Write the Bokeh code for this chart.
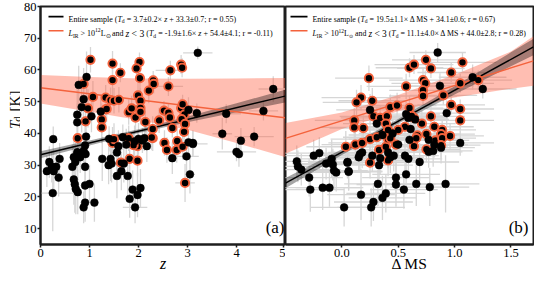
import numpy as np
from bokeh.plotting import figure
from bokeh.layouts import row
from bokeh.models import Label, BoxAnnotation, FixedTicker, NumeralTickFormatter
from bokeh.embed import file_html
from bokeh.resources import INLINE

# ---------------- data: panel (a) T_d vs z ----------------
z_all_a = [3.21,0.94,0.78,0.88,0.84,0.75,0.75,1.04,1.23,0.26,
           3.02,3.19,3.79,4.55,4.75,3.71,4.09,4.36,4.00,4.05,
           3.02,3.11,2.98,2.69,3.05,3.11,0.13,0.18,0.23,0.27,
           0.32,0.37,0.39,0.25,0.68,0.70,0.72,0.76,0.65,0.71,
           0.68,0.75,0.81,0.91,0.91,1.00,0.91,0.88,1.10,1.26,
           1.43,1.39,1.56,1.65,1.70,1.78,1.88,1.82,1.93,1.98,
           2.04,2.17,0.93,0.91,0.88,0.76,0.92,1.59,1.56,1.92,
           2.00,2.08,2.12,1.75,1.45,1.40,1.68]
td_all_a = [65.4,57.8,55.3,50.8,48.3,45.9,43.5,45.4,46.9,38.2,
            47.4,46.4,46.2,47.1,54.0,39.9,37.7,39.0,34.2,33.5,
            37.2,37.0,32.8,32.2,27.1,36.7,28.1,31.0,29.5,28.1,
            29.5,26.1,32.0,21.2,25.5,24.0,22.5,21.5,29.5,31.0,
            32.5,34.0,32.5,29.5,23.6,24.1,18.2,16.7,18.2,32.0,
            32.0,30.0,26.6,28.1,30.5,26.6,22.3,19.4,16.7,20.6,
            22.8,36.0,39.0,36.2,34.5,34.0,33.5,36.0,34.0,37.5,
            38.3,37.8,38.5,36.5,30.5,38.3,38.8]
ez_all_a = [0.30,0.05,0.05,0.05,0.05,0.05,0.05,0.05,0.05,0.05,
            0.10,0.05,0.30,0.30,0.30,0.20,0.05,0.40,0.40,0.05,
            0.10,0.10,0.25,0.10,0.10,0.30,0.05,0.05,0.05,0.05,
            0.05,0.05,0.05,0.50,0.05,0.05,0.05,0.05,0.05,0.05,
            0.05,0.05,0.05,0.05,0.05,0.05,0.05,0.05,0.05,0.05,
            0.05,0.05,0.05,0.05,0.05,0.05,0.05,0.05,0.25,0.05,
            0.05,0.10,0.05,0.05,0.05,0.05,0.05,0.05,0.05,0.05,
            0.05,0.05,0.05,0.05,0.05,0.05,0.05]
etd_all_a = [2,8,6,6,8,8,6,5,5,4,
             4,3,3,3,4,5,4,3,3,4,
             4,4,5,5,6,4,5,5,5,6,
             4,6,5,12,8,9,8,7,7,6,
             5,6,5,6,7,6,6,5,6,7,
             7,6,7,6,6,7,6,6,5,7,
             6,5,6,6,5,6,5,5,6,5,
             5,4,4,5,6,4,4]

z_lir_a = [1.02,1.47,2.02,1.96,1.63,2.65,2.87,2.89,0.88,1.47,
           2.03,2.30,2.31,2.61,2.21,0.97,1.07,1.33,1.43,1.50,
           1.60,1.99,2.04,0.92,1.25,1.25,1.33,1.80,1.86,1.94,
           2.04,2.04,2.14,2.29,2.42,2.52,2.61,2.64,2.69,2.87,
           2.90,2.94,2.88,2.95,2.93,0.76,1.47,1.50,1.64,1.80,
           1.82,1.98,1.98,2.29,2.53,2.58,2.78,2.79,2.90,2.95,
           2.27,1.35,1.90]
td_lir_a = [63.2,62.0,62.5,60.5,59.1,59.9,61.7,60.7,55.6,56.8,
            57.4,56.7,55.6,54.8,53.5,47.9,51.5,51.3,50.5,50.3,
            50.6,52.0,50.3,43.8,44.4,41.9,47.6,46.7,47.9,45.0,
            48.0,46.8,43.6,41.4,44.1,47.2,46.5,45.0,41.7,48.0,
            49.2,46.0,44.5,43.0,40.5,38.5,37.0,38.2,30.8,38.5,
            32.0,36.0,31.4,38.5,37.0,34.8,34.8,37.6,35.8,24.4,
            38.7,47.7,36.3]
ez_lir_a = [0.05,0.05,0.10,0.10,0.05,0.30,0.10,0.10,0.05,0.05,
            0.05,0.10,0.10,0.30,0.05,0.05,0.05,0.05,0.05,0.05,
            0.05,0.05,0.05,0.05,0.05,0.05,0.05,0.05,0.05,0.05,
            0.05,0.05,0.05,0.05,0.10,0.10,0.10,0.10,0.10,0.10,
            0.10,0.10,0.10,0.10,0.10,0.05,0.05,0.05,0.05,0.05,
            0.05,0.05,0.05,0.05,0.10,0.10,0.10,0.10,0.10,0.20,
            0.05,0.05,0.05]
etd_lir_a = [4,4,3,3,3,3,3,3,5,5,
             4,3,3,3,4,6,5,4,4,4,
             4,4,4,6,5,5,5,4,4,4,
             4,4,4,4,4,3,3,3,3,3,
             3,3,3,3,3,5,5,5,5,4,
             5,5,5,4,4,4,4,4,4,6,
             4,4,4]

# fits (from legend) and confidence bands
fit_all_a = (3.7, 33.3)
fit_lir_a = (-1.9, 54.4)
band_x_a = [0, 1, 2, 3, 4, 5]
band_all_lo_a = [32.2, 36.2, 40.1, 43.5, 46.7, 49.8]
band_all_hi_a = [34.4, 37.8, 41.3, 45.3, 49.5, 53.8]
band_lir_lo_a = [49.4, 46.8, 44.2, 41.2, 37.0, 32.5]
band_lir_hi_a = [58.4, 57.8, 57.3, 57.2, 57.3, 57.5]

# ---------------- data: panel (b) T_d vs Delta MS ----------------
ms_all_b = [0.85,0.87,1.16,1.25,0.93,1.05,-0.40,-0.39,-0.25,-0.20,
            -0.09,-0.08,-0.07,0.06,0.05,0.15,0.18,0.27,0.33,0.34,
            0.16,0.41,0.43,0.46,0.56,0.59,0.69,0.77,0.81,0.88,
            0.57,0.48,0.48,0.55,0.66,0.78,0.92,0.32,0.39,0.36,
            0.28,0.26,0.17,0.02,-0.17,-0.28,-0.11,-0.29,-0.36,-0.14,
            -0.05,0.05,0.06,0.25,0.31,0.57,0.59,0.65,0.61,0.77,
            0.60,0.50,0.82,0.45,0.36]
td_all_b = [65.5,55.0,57.7,54.0,46.4,37.0,31.2,29.6,33.0,33.8,
            32.0,30.2,28.3,27.9,30.8,32.5,34.0,33.0,30.0,32.2,
            33.5,34.0,32.5,33.0,33.0,32.0,31.0,34.2,34.5,35.5,
            27.1,26.1,23.9,22.3,24.1,23.1,24.1,24.1,21.1,19.7,
            18.4,16.7,20.7,16.7,22.9,22.3,22.9,26.1,28.6,30.5,
            27.7,31.0,28.1,47.4,43.1,46.1,44.9,44.4,41.4,38.0,
            38.0,36.5,36.4,40.0,39.5]
ems_all_b = [0.25,0.30,0.30,0.30,0.30,0.30,0.25,0.30,0.30,0.35,
             0.30,0.35,0.30,0.30,0.35,0.30,0.30,0.35,0.30,0.30,
             0.35,0.30,0.30,0.35,0.30,0.30,0.35,0.30,0.35,0.30,
             0.30,0.30,0.35,0.30,0.30,0.35,0.30,0.30,0.35,0.30,
             0.35,0.30,0.30,0.30,0.35,0.30,0.30,0.30,0.35,0.30,
             0.30,0.35,0.30,0.30,0.30,0.30,0.35,0.30,0.30,0.30,
             0.30,0.35,0.30,0.30,0.30]
etd_all_b = [3,4,4,3,4,4,5,5,5,5,
             6,5,6,6,5,5,5,5,6,5,
             5,5,5,5,5,5,6,5,5,5,
             6,6,7,6,7,6,9,7,6,7,
             6,6,8,6,7,7,6,6,5,5,
             6,5,6,5,5,4,4,4,4,4,
             4,4,4,4,4]

ms_lir_b = [0.745,1.07,0.60,0.64,0.79,0.24,0.97,0.72,0.74,0.57,
            1.05,1.21,0.17,0.13,0.27,0.43,0.49,0.90,0.72,0.72,
            0.97,1.05,1.05,0.11,0.11,0.19,0.28,0.34,0.40,0.39,
            0.41,0.56,0.64,0.71,0.79,0.82,0.89,0.88,0.75,0.67,
            0.50,0.035,0.12,0.18,0.25,0.31,0.33,0.39,0.41,0.43,
            0.48,0.64,0.66,0.75,0.83,0.89,0.88,0.96,0.25,0.41,
            0.60,0.62]
td_lir_b = [63.2,62.4,60.7,61.7,60.5,57.4,59.2,56.8,55.8,54.8,
            55.8,56.8,51.3,49.8,50.3,48.3,48.8,52.0,53.6,51.8,
            49.0,47.7,44.1,44.1,41.9,41.7,45.4,44.9,45.4,43.1,
            41.1,42.1,44.9,43.1,45.4,42.1,41.1,39.8,39.8,39.4,
            41.1,35.8,36.5,37.0,38.2,38.8,34.8,35.8,38.2,38.5,
            36.5,36.0,38.5,35.0,37.8,38.5,36.3,39.2,30.8,31.5,
            48.0,45.5]
ems_lir_b = [0.30,0.30,0.30,0.35,0.30,0.30,0.30,0.30,0.30,0.35,
             0.30,0.30,0.35,0.30,0.30,0.30,0.35,0.30,0.30,0.30,
             0.30,0.30,0.30,0.35,0.30,0.30,0.30,0.35,0.30,0.30,
             0.30,0.35,0.30,0.30,0.30,0.35,0.30,0.30,0.30,0.35,
             0.30,0.35,0.30,0.30,0.35,0.30,0.30,0.30,0.35,0.30,
             0.30,0.30,0.35,0.30,0.30,0.30,0.35,0.30,0.30,0.30,
             0.30,0.30]
etd_lir_b = [3,3,3,3,3,4,3,4,4,4,
             3,3,4,4,4,4,4,3,3,3,
             3,3,3,4,4,4,4,4,4,4,
             4,4,4,4,3,3,3,3,3,3,
             4,5,5,5,4,4,5,5,4,4,
             4,4,4,4,4,4,4,4,5,5,
             4,4]

fit_all_b = (19.5, 34.1)
fit_lir_b = (11.1, 44.0)
band_x_b = [-0.5, 0.0, 0.5, 1.0, 1.5, 1.7]
band_all_lo_b = [22.75, 33.2, 43.15, 52.3, 61.15, 64.65]
band_all_hi_b = [25.95, 35.0, 44.55, 54.9, 65.55, 69.85]
band_lir_lo_b = [33.6, 41.4, 47.0, 51.3, 54.1, 55.0]
band_lir_hi_b = [43.3, 46.6, 52.1, 58.5, 65.8, 70.6]

yticks = [10, 20, 30, 40, 50, 60, 70, 80]
xticks_a = [0, 1, 2, 3, 4, 4.95]   # last one sits at the shared edge and reads "5"
xticks_b = [0.0, 0.5, 1.0, 1.5]

# ---------------- styling ----------------
FONT = "Liberation Serif"
RED = "#f4623c"
GREY = "#d6d6d6"
FRAME = "#1e1e1e"
Y0, Y1 = 5, 80
H = 274
TOP = 6
BOT_EST = 33
FH_EST = H - TOP - BOT_EST
PXU = FH_EST / (Y1 - Y0)
W_Y = 20
LB_A = 17
W_A = LB_A + 248
W_B = 534 - W_Y - W_A

REG = {' ': 250, '(': 333, ')': 333, '+': 564, '-': 333, '.': 250, ';': 278, '<': 564,
       '=': 564, '>': 564, 'E': 611, 'I': 333, 'K': 722, 'L': 611, 'M': 889, 'R': 667,
       'S': 556, '[': 333, ']': 333, 'a': 444, 'd': 500, 'e': 444, 'i': 278, 'l': 278,
       'm': 778, 'n': 500, 'p': 500, 'r': 333, 's': 389, 't': 278, 'z': 444, '±': 564,
       '×': 564, 'Δ': 612, '⊙': 780}
ITA = {'T': 556, 'z': 389, 'L': 556, 'd': 500}


def tw(s, size, ital=False):
    return sum((ITA.get(c, REG.get(c, 500)) if ital else REG.get(c, 500)) for c in s) * size / 1000.0


def rich(p, segs, x0, yb, size):
    cur = x0
    for txt, ital, sc, sh in segs:
        fs = size * sc
        lead = len(txt) - len(txt.lstrip(' '))
        cur += tw(' ' * lead, fs)
        core = txt.strip(' ')
        if core:
            p.add_layout(Label(x=cur, y=yb + sh * size / PXU, x_units="screen", y_units="data",
                               text=core, text_font=FONT, text_font_size=f"{fs:.2f}px",
                               text_font_style="italic" if ital else "normal",
                               text_color="black", text_baseline="alphabetic", text_align="left"))
        cur += tw(core, fs, ital)
        trail = len(txt) - len(txt.rstrip(' ')) if core else 0
        cur += tw(' ' * trail, fs)


def make_fig(w, xr, mbl, mbr, yaxis=True):
    p = figure(width=w, height=H, x_range=xr, y_range=(Y0, Y1),
               output_backend="svg", toolbar_location=None,
               y_axis_location="left" if yaxis else None,
               min_border_left=mbl, min_border_right=mbr, min_border_top=TOP, min_border_bottom=0)
    p.grid.visible = False
    p.outline_line_color = FRAME
    p.outline_line_width = 2
    p.outline_line_alpha = 1
    p.background_fill_color = "white"
    p.border_fill_color = "white"
    for ax in p.axis:
        ax.axis_line_color = FRAME
        ax.axis_line_width = 2
        ax.major_tick_line_color = FRAME
        ax.major_tick_line_width = 1.5
        ax.major_tick_out = 3
        ax.major_tick_in = 0
        ax.minor_tick_line_color = None
        ax.major_label_text_font = FONT
        ax.major_label_text_font_size = "12.5px"
        ax.major_label_text_color = "black"
        ax.major_label_standoff = 1
        ax.axis_label_text_font = FONT
        ax.axis_label_text_color = "black"
        ax.axis_label_standoff = -5
    return p


def draw_panel(p, xa, ya, exa, eya, xl, yl, exl, eyl, fit_all, fit_lir,
               bx, blo, bhi, rlo, rhi, xr):
    for xs, ys, ex, ey in ((xa, ya, exa, eya), (xl, yl, exl, eyl)):
        xs = np.array(xs); ys = np.array(ys); ex = np.array(ex); ey = np.array(ey)
        p.segment(x0=xs - ex, x1=xs + ex, y0=ys, y1=ys, line_color=GREY, line_width=1.3)
        p.segment(x0=xs, x1=xs, y0=ys - ey, y1=ys + ey, line_color=GREY, line_width=1.3)
    p.varea(x=bx, y1=rlo, y2=rhi, fill_color="tomato", fill_alpha=0.42)
    p.varea(x=bx, y1=blo, y2=bhi, fill_color="black", fill_alpha=0.35)
    xx = np.array([xr[0], xr[1]])
    p.line(xx, fit_lir[0] * xx + fit_lir[1], line_color=RED, line_width=1.4)
    p.line(xx, fit_all[0] * xx + fit_all[1], line_color="black", line_width=1.4)
    p.scatter(xl, yl, size=8.3, fill_color="black", line_color=RED, line_width=1.9)
    p.scatter(xa, ya, size=7.8, fill_color="black", line_color="black", line_width=0.5)


def legend(p, xline0, xline1, xtext, rows, size):
    for (segs, col), dy_line, dy_text in zip(rows, (10, 24), (13, 27)):
        p.add_layout(BoxAnnotation(left=xline0, right=xline1, left_units="screen", right_units="screen",
                                   top=Y1 - (dy_line - 0.8) / PXU, bottom=Y1 - (dy_line + 0.8) / PXU,
                                   fill_color=col, fill_alpha=1, line_alpha=0))
        rich(p, segs, xtext, Y1 - dy_text / PXU, size)


XR_A = (0, 5)
XR_B = (-0.5, 1.7)
F, I = False, True

# ---------------- y-axis label strip ----------------
py = figure(width=W_Y, height=H, x_range=(0, W_Y), y_range=(0, H), output_backend="svg",
            toolbar_location=None, x_axis_location=None, y_axis_location=None,
            min_border_left=0, min_border_right=0, min_border_top=0, min_border_bottom=0)
py.grid.visible = False
py.outline_line_color = None
py.background_fill_color = "white"
py.border_fill_color = "white"
ysegs = [("T", I, 1, 0, 0), ("d", F, .7, -.2, 3), (" [K]", F, 1, 0, 0)]
ysize = 15.0
ylen = sum(tw(t, ysize * s, it) + gap for t, it, s, _, gap in ysegs)
ycur = BOT_EST + FH_EST / 2 - ylen / 2 + 3
for t, it, s, sh, gap in ysegs:
    fs = ysize * s
    lead = len(t) - len(t.lstrip(' '))
    ycur += tw(' ' * lead, fs)
    core = t.strip(' ')
    py.add_layout(Label(x=14 - sh * ysize, y=ycur, x_units="data", y_units="data", text=core,
                        angle=np.pi / 2, text_font=FONT, text_font_size=f"{fs:.2f}px",
                        text_font_style="italic" if it else "normal", text_color="black",
                        text_baseline="alphabetic", text_align="left"))
    ycur += tw(core, fs, it) + gap

# ---------------- panel (a) ----------------
pa = make_fig(W_A, XR_A, LB_A, 0)
pa.xaxis.ticker = FixedTicker(ticks=xticks_a)
pa.xaxis.formatter = NumeralTickFormatter(format="0")
pa.yaxis.ticker = FixedTicker(ticks=yticks)
pa.xaxis.axis_label = "z"
pa.xaxis.axis_label_text_font_style = "italic"
pa.xaxis.axis_label_text_font_size = "16px"
draw_panel(pa, z_all_a, td_all_a, ez_all_a, etd_all_a, z_lir_a, td_lir_a, ez_lir_a, etd_lir_a,
           fit_all_a, fit_lir_a, band_x_a, band_all_lo_a, band_all_hi_a, band_lir_lo_a, band_lir_hi_a, XR_A)

rows_a = [
    ([("Entire sample (", F, 1, 0), ("T", I, 1, 0), ("d", F, .7, -.22), (" = 3.7±0.2× ", F, 1, 0),
      ("z", I, 1, 0), (" + 33.3±0.7; r = 0.55)", F, 1, 0)], "black"),
    ([("L", I, 1, 0), ("IR", F, .7, -.22), (" > 10", F, 1, 0), ("12", F, .7, .42), ("L", F, 1, 0),
      ("⊙", F, .7, -.22), (" and ", F, 1, 0), ("z", I, 1.2, 0), (" < 3", F, 1.2, 0), (" (", F, 1, 0),
      ("T", I, 1, 0), ("d", F, .7, -.22), (" = -1.9±1.6× ", F, 1, 0), ("z", I, 1, 0),
      (" + 54.4±4.1; r = -0.11)", F, 1, 0)], RED),
]
legend(pa, 8, 23, 28, rows_a, 8.0)
pa.add_layout(Label(x=W_A - LB_A - 4, y=17, x_units="screen", y_units="screen", text="(a)", text_align="right",
                    text_baseline="alphabetic", text_font=FONT, text_font_size="17px", text_color="black"))

# ---------------- panel (b) ----------------
pb = make_fig(W_B, XR_B, 0, 1, yaxis=False)
pb.xaxis.ticker = FixedTicker(ticks=xticks_b)
pb.xaxis.formatter = NumeralTickFormatter(format="0.0")
pb.xaxis.axis_label = "Δ MS"
pb.xaxis.axis_label_text_font_style = "normal"
pb.xaxis.axis_label_text_font_size = "15.5px"
draw_panel(pb, ms_all_b, td_all_b, ems_all_b, etd_all_b, ms_lir_b, td_lir_b, ems_lir_b, etd_lir_b,
           fit_all_b, fit_lir_b, band_x_b, band_all_lo_b, band_all_hi_b, band_lir_lo_b, band_lir_hi_b, XR_B)
rows_b = [
    ([("Entire sample (", F, 1, 0), ("T", I, 1, 0), ("d", F, .7, -.22), (" = 19.5±1.1× Δ MS + 34.1±0.6; r = 0.67)", F, 1, 0)], "black"),
    ([("L", I, 1, 0), ("IR", F, .7, -.22), (" > 10", F, 1, 0), ("12", F, .7, .42), ("L", F, 1, 0),
      ("⊙", F, .7, -.22), (" and ", F, 1, 0), ("z", I, 1.2, 0), (" < 3", F, 1.2, 0), (" (", F, 1, 0),
      ("T", I, 1, 0), ("d", F, .7, -.22), (" = 11.1±4.0× Δ MS + 44.0±2.8; r = 0.28)", F, 1, 0)], RED),
]
legend(pb, 5, 22, 27, rows_b, 7.85)
pb.add_layout(Label(x=W_B - 1 - 5, y=17, x_units="screen", y_units="screen", text="(b)", text_align="right",
                    text_baseline="alphabetic", text_font=FONT, text_font_size="17px", text_color="black"))

layout = row(py, pa, pb)
open("out.html", "w").write(file_html(layout, INLINE))
